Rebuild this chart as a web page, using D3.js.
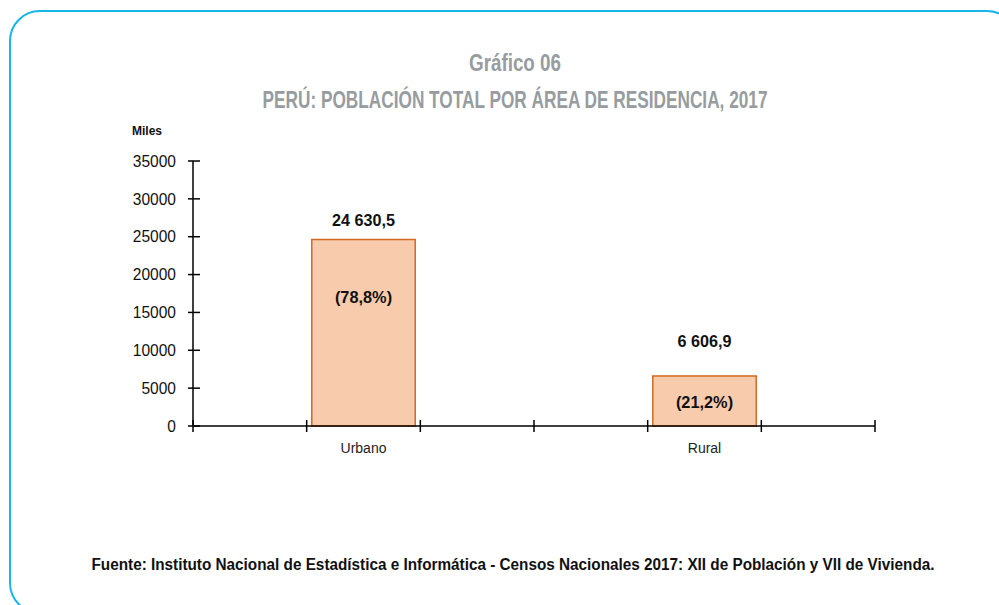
<!DOCTYPE html>
<html>
<head>
<meta charset="utf-8">
<script src="https://cdn.jsdelivr.net/npm/d3@7"></script>
<style>
  html, body { margin: 0; padding: 0; background: #fff; }
  svg { display: block; }
</style>
</head>
<body>
<svg id="chart" width="999" height="605"></svg>
<script>
// Población censada por área de residencia (miles de personas)
const categories = ["Urbano", "Rural"];
const values = [24630.5, 6606.9];
const valueLabels = ["24 630,5", "6 606,9"];
const shareLabels = ["(78,8%)", "(21,2%)"];
const yTicks = [0, 5000, 10000, 15000, 20000, 25000, 30000, 35000];

// slot on the category axis (6 equal slots) where each bar sits
const slotIndex = [1, 4];
// vertical placement of the labels
const valueLabelGap = [14, 29];      // px above bar top
const shareLabelAt = [16200, 2400];  // baseline position on the value axis

const svg = d3.select("#chart");

// squeeze a text horizontally to a share of its natural width
function condense(sel, k) {
  sel.each(function () {
    const w = this.getComputedTextLength();
    d3.select(this)
      .attr("textLength", w * k)
      .attr("lengthAdjust", "spacingAndGlyphs");
  });
}

// frame
svg.append("rect")
  .attr("x", 10).attr("y", 11)
  .attr("width", 1007).attr("height", 602)
  .attr("rx", 30).attr("ry", 30)
  .attr("fill", "none")
  .attr("stroke", "#18b5ea")
  .attr("stroke-width", 2);

// titles (condensed look)
const titleFont = "'Liberation Sans', Arial, sans-serif";
svg.append("text")
  .attr("x", 515).attr("y", 71)
  .attr("text-anchor", "middle")
  .attr("font-family", titleFont)
  .attr("font-weight", "bold")
  .attr("font-size", 23)
  .attr("textLength", 92)
  .attr("lengthAdjust", "spacingAndGlyphs")
  .attr("fill", "#979ca0")
  .text("Gráfico 06");
svg.append("text")
  .attr("x", 515).attr("y", 108)
  .attr("text-anchor", "middle")
  .attr("font-family", titleFont)
  .attr("font-weight", "bold")
  .attr("font-size", 23)
  .attr("textLength", 505)
  .attr("lengthAdjust", "spacingAndGlyphs")
  .attr("fill", "#979ca0")
  .text("PERÚ: POBLACIÓN TOTAL POR ÁREA DE RESIDENCIA, 2017");

const x = d3.scaleLinear().domain([0, 6]).range([193, 875]);
const y = d3.scaleLinear().domain([0, 35000]).range([426, 161]);

const baseFont = "'Liberation Sans', Arial, sans-serif";

// y axis
const yAxis = svg.append("g");
yAxis.append("line")
  .attr("x1", x(0)).attr("x2", x(0))
  .attr("y1", y(35000)).attr("y2", y(0))
  .attr("stroke", "#000").attr("stroke-width", 1.5);
yAxis.selectAll("line.tick")
  .data(yTicks).join("line")
  .attr("class", "tick")
  .attr("x1", x(0) - 5).attr("x2", x(0) + 7)
  .attr("y1", d => y(d)).attr("y2", d => y(d))
  .attr("stroke", "#000").attr("stroke-width", 1.5);
yAxis.selectAll("text")
  .data(yTicks).join("text")
  .attr("x", x(0) - 17)
  .attr("y", d => y(d))
  .attr("dy", "0.36em")
  .attr("text-anchor", "end")
  .attr("font-family", baseFont)
  .attr("font-size", 16)
  .attr("fill", "#111")
  .text(d => d)
  .call(condense, 0.97);

svg.append("text")
  .attr("x", 132).attr("y", 135)
  .attr("font-family", baseFont)
  .attr("font-weight", "bold")
  .attr("font-size", 12)
  .attr("fill", "#111")
  .text("Miles");

// bars
const barPad = 0.045;
svg.selectAll("rect.bar")
  .data(values).join("rect")
  .attr("class", "bar")
  .attr("x", (d, i) => x(slotIndex[i] + barPad))
  .attr("width", (d, i) => x(slotIndex[i] + 1 - barPad) - x(slotIndex[i] + barPad))
  .attr("y", d => y(d))
  .attr("height", d => y(0) - y(d))
  .attr("fill", "#f8cbad")
  .attr("stroke", "#d3691f")
  .attr("stroke-width", 1.5);

// x axis
const xAxis = svg.append("g");
xAxis.append("line")
  .attr("x1", x(0)).attr("x2", x(6))
  .attr("y1", y(0)).attr("y2", y(0))
  .attr("stroke", "#000").attr("stroke-width", 1.5);
xAxis.selectAll("line.tick")
  .data(d3.range(0, 7)).join("line")
  .attr("class", "tick")
  .attr("x1", d => x(d)).attr("x2", d => x(d))
  .attr("y1", y(0) - 6).attr("y2", y(0) + 6)
  .attr("stroke", "#000").attr("stroke-width", 1.5);
xAxis.selectAll("text")
  .data(categories).join("text")
  .attr("x", (d, i) => x(slotIndex[i] + 0.5))
  .attr("y", 453)
  .attr("text-anchor", "middle")
  .attr("font-family", baseFont)
  .attr("font-size", 14)
  .attr("fill", "#222")
  .text(d => d);

// value labels
const labelFont = "'Liberation Sans', Arial, sans-serif";
svg.selectAll("text.val")
  .data(values).join("text")
  .attr("class", "val")
  .attr("x", (d, i) => x(slotIndex[i] + 0.5))
  .attr("y", (d, i) => y(d) - valueLabelGap[i])
  .attr("text-anchor", "middle")
  .attr("font-family", labelFont)
  .attr("font-weight", "bold")
  .attr("font-size", 17)
  .attr("fill", "#111")
  .text((d, i) => valueLabels[i])
  .call(condense, 0.95);

svg.selectAll("text.share")
  .data(shareLabels).join("text")
  .attr("class", "share")
  .attr("x", (d, i) => x(slotIndex[i] + 0.5))
  .attr("y", (d, i) => y(shareLabelAt[i]))
  .attr("text-anchor", "middle")
  .attr("font-family", labelFont)
  .attr("font-weight", "bold")
  .attr("font-size", 17)
  .attr("fill", "#111")
  .text(d => d)
  .call(condense, 0.96);

// source note
svg.append("text")
  .attr("x", 513).attr("y", 570)
  .attr("text-anchor", "middle")
  .attr("font-family", labelFont)
  .attr("font-weight", "bold")
  .attr("font-size", 16)
  .attr("textLength", 843)
  .attr("lengthAdjust", "spacingAndGlyphs")
  .attr("fill", "#111")
  .text("Fuente: Instituto Nacional de Estadística e Informática - Censos Nacionales 2017: XII de Población y VII de Vivienda.");
</script>
</body>
</html>
